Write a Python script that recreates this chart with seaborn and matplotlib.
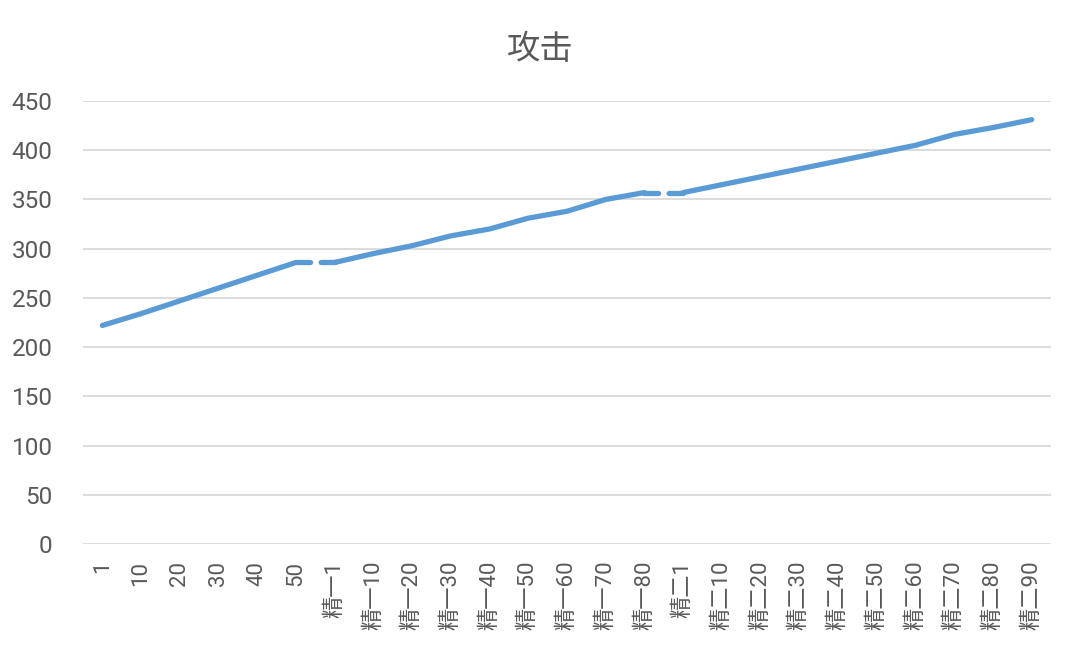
import pandas as pd
import matplotlib.pyplot as plt
import seaborn as sns

# Data
levels = ['1', '10', '20', '30', '40', '50',
          '精一1', '精一10', '精一20', '精一30', '精一40', '精一50', '精一60', '精一70', '精一80',
          '精二1', '精二10', '精二20', '精二30', '精二40', '精二50', '精二60', '精二70', '精二80', '精二90']
attack = [222, 234, 247, 260, 273, 286,
          286, 295, 303, 313, 320, 331, 338, 350, 357,
          357, 365, 373, 381, 389, 397, 405, 416, 423, 431]
stage = ['零'] * 6 + ['精一'] * 9 + ['精二'] * 10

df = pd.DataFrame({'idx': range(len(levels)), 'level': levels, 'attack': attack, 'stage': stage})

sns.set_theme(style="white")
plt.rcParams['font.family'] = ['Roboto', 'Noto Sans CJK SC', 'DejaVu Sans']

line_color = '#5b9bd5'
text_color = '#595959'
grid_color = '#d9d9d9'
lw = 3.8

fig = plt.figure(figsize=(10.8, 6.48), dpi=100)
ax = fig.add_axes([83 / 1080, 1 - 544 / 648, (1051 - 83) / 1080, (544 - 101) / 648])

# solid segments within each stage
for s in ['零', '精一', '精二']:
    sub = df[df['stage'] == s]
    sns.lineplot(data=sub, x='idx', y='attack', ax=ax, color=line_color,
                 linewidth=lw, solid_capstyle='round', solid_joinstyle='round')

# broken connectors between stages
seg_pts = 38.7 * 0.72 / lw
gap = 2.0
on = (seg_pts - gap) / 2
for a, b in [(5, 6), (14, 15)]:
    sub = df.iloc[[a, b]]
    ax.plot(sub['idx'], sub['attack'], color=line_color, linewidth=lw,
            linestyle=(0, (on, gap, 20)), dash_capstyle='round')

ax.set_xlim(-0.5, len(levels) - 0.5)
ax.set_ylim(0, 450)
ax.set_yticks(range(0, 451, 50))
ax.set_xticks(df['idx'])
ax.set_xticklabels(levels, rotation=90, va='top', ha='center')
ax.tick_params(axis='y', length=0, labelsize=17.5, colors=text_color, pad=22)
ax.tick_params(axis='x', length=0, labelsize=16, colors=text_color, pad=12)
ax.yaxis.grid(True, color=grid_color, linewidth=1.3)
ax.set_axisbelow(True)
for sp in ax.spines.values():
    sp.set_visible(False)
ax.set_xlabel('')
ax.set_ylabel('')

fig.text(0.5, 1 - 50 / 648, '攻击', ha='center', va='center', fontsize=24, color=text_color)

fig.savefig('out.png', dpi=100)
